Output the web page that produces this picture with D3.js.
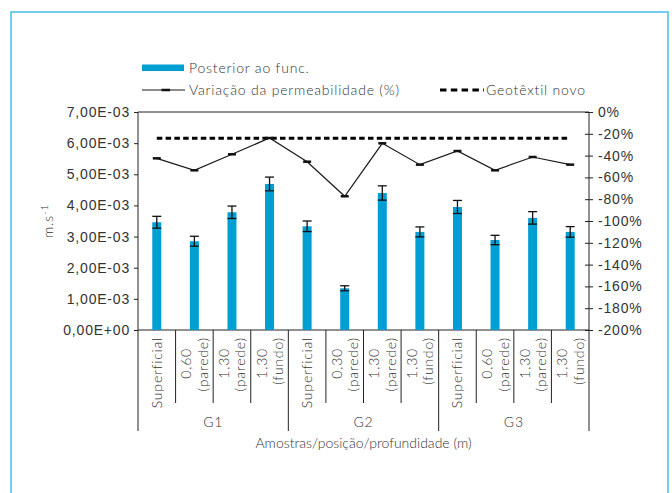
<!DOCTYPE html>
<html>
<head>
<meta charset="utf-8">
<script src="https://cdn.jsdelivr.net/npm/d3@7"></script>
<style>
  html, body { margin: 0; padding: 0; background: #fff; }
  svg { display: block; font-family: Lato, "Open Sans", sans-serif; font-weight: 300; letter-spacing: 0.8px; }
  text { fill: #333; }
</style>
</head>
<body>
<svg id="chart" width="672" height="493"></svg>
<script>
// Samples: [first line, second line] of each rotated category label
const categories = [
  ["Superficial"], ["0,60", "(parede)"], ["1,30", "(parede)"], ["1,30", "(fundo)"],
  ["Superficial"], ["0,30", "(parede)"], ["1,30", "(parede)"], ["1,30", "(fundo)"],
  ["Superficial"], ["0,60", "(parede)"], ["1,30", "(parede)"], ["1,30", "(fundo)"]
];
const groups = ["G1", "G2", "G3"];

// Permeability after operation (m.s-1) with its error
const posterior = [3.46e-3, 2.85e-3, 3.78e-3, 4.69e-3, 3.33e-3, 1.34e-3, 4.40e-3, 3.15e-3, 3.95e-3, 2.89e-3, 3.60e-3, 3.15e-3];
const posteriorErr = [0.19e-3, 0.16e-3, 0.20e-3, 0.22e-3, 0.17e-3, 0.08e-3, 0.23e-3, 0.16e-3, 0.21e-3, 0.15e-3, 0.20e-3, 0.17e-3];

// Permeability change (%)
const variacao = [-42.5, -53.5, -38.8, -23.9, -45.6, -77.3, -28.7, -48.3, -35.8, -53.5, -41.3, -48.3];
// New geotextile reference (%)
const geotextilNovo = -24;

const leftTicks = d3.range(0, 0.00701, 0.001);
const rightTicks = d3.range(-200, 1, 20);

const svg = d3.select("#chart");
const blue = "#009fd3";
const fs = 14;

// Outer frame
svg.append("rect").attr("x", 11).attr("y", 12).attr("width", 657).attr("height", 520)
  .attr("fill", "none").attr("stroke", "#4dbbe6").attr("stroke-width", 1.5);

const plot = { left: 138, right: 589, top: 112, bottom: 330 };

const x = d3.scaleBand().domain(d3.range(categories.length)).range([plot.left, plot.right]).padding(0);
const y = d3.scaleLinear().domain([0, 0.007]).range([plot.bottom, plot.top]);
const y2 = d3.scaleLinear().domain([-200, 0]).range([plot.bottom, plot.top]);

const fmtSci = v => {
  if (v === 0) return "0,00E+00";
  const e = Math.floor(Math.log10(v) + 1e-9);
  const m = v / Math.pow(10, e);
  const sign = e < 0 ? "-" : "+";
  return m.toFixed(2).replace(".", ",") + "E" + sign + String(Math.abs(e)).padStart(2, "0");
};

// Left axis
const yAxis = d3.axisLeft(y).tickValues(leftTicks).tickFormat(fmtSci).tickSize(4).tickPadding(4);
const gl = svg.append("g").attr("transform", `translate(${plot.left},0)`).call(yAxis);
gl.select(".domain").remove();
gl.selectAll(".tick line").attr("stroke", "#222");
gl.selectAll(".tick text").attr("font-size", fs).attr("fill", "#333").attr("font-family", null);

// Right axis
const yAxis2 = d3.axisRight(y2).tickValues(rightTicks).tickFormat(d => d + "%").tickSize(4).tickPadding(5);
const gr = svg.append("g").attr("transform", `translate(${plot.right},0)`).call(yAxis2);
gr.select(".domain").remove();
gr.selectAll(".tick line").attr("stroke", "#222").attr("x1", -4);
gr.selectAll(".tick text").attr("font-size", fs).attr("fill", "#333").attr("font-family", null);

// Plot frame lines
const axisColor = "#222";
svg.append("line").attr("x1", plot.left).attr("x2", plot.right).attr("y1", plot.top).attr("y2", plot.top)
  .attr("stroke", axisColor).attr("stroke-width", 1);
svg.append("line").attr("x1", plot.right).attr("x2", plot.right).attr("y1", plot.top).attr("y2", plot.bottom)
  .attr("stroke", axisColor).attr("stroke-width", 1);
svg.append("line").attr("x1", plot.left).attr("x2", plot.left).attr("y1", plot.top).attr("y2", 431)
  .attr("stroke", axisColor).attr("stroke-width", 1);
svg.append("line").attr("x1", plot.left).attr("x2", plot.right).attr("y1", plot.bottom).attr("y2", plot.bottom)
  .attr("stroke", axisColor).attr("stroke-width", 1);

// Category separators and group separators
categories.forEach((c, i) => {
  if (i === 0) return;
  const xx = x(i);
  const isGroup = i % 4 === 0;
  svg.append("line").attr("x1", xx).attr("x2", xx).attr("y1", plot.bottom).attr("y2", isGroup ? 431 : 403)
    .attr("stroke", axisColor).attr("stroke-width", 1);
});
svg.append("line").attr("x1", plot.right).attr("x2", plot.right).attr("y1", plot.bottom).attr("y2", 431)
  .attr("stroke", axisColor).attr("stroke-width", 1);

// Category labels (rotated)
categories.forEach((lines, i) => {
  const cx = x(i) + x.bandwidth() / 2;
  if (lines.length === 1) {
    svg.append("text").attr("transform", `translate(${cx + 5},337) rotate(-90)`)
      .attr("text-anchor", "end").attr("font-size", fs).text(lines[0]);
  } else {
    svg.append("text").attr("transform", `translate(${cx - 3},348) rotate(-90)`)
      .attr("text-anchor", "end").attr("font-size", fs).text(lines[0]);
    svg.append("text").attr("transform", `translate(${cx + 13.5},337) rotate(-90)`)
      .attr("text-anchor", "end").attr("font-size", fs).text(lines[1]);
  }
});

// Group labels
groups.forEach((g, gi) => {
  const x0 = x(gi * 4), x1 = x(gi * 4 + 3) + x.bandwidth();
  svg.append("text").attr("x", (x0 + x1) / 2).attr("y", 427).attr("text-anchor", "middle")
    .attr("font-size", fs).text(g);
});

// Axis titles
svg.append("text").attr("x", (plot.left + plot.right) / 2).attr("y", 448).attr("text-anchor", "middle")
  .attr("font-size", fs).attr("letter-spacing", "0px").text("Amostras/posição/profundidade (m)");
const yt = svg.append("text").attr("transform", `translate(53,${(plot.top + plot.bottom) / 2}) rotate(-90)`)
  .attr("text-anchor", "middle").attr("font-size", fs);
yt.append("tspan").text("m.s");
yt.append("tspan").attr("dy", -5).attr("font-size", 10).text("-1");

// Bars
const bw = 9;
svg.append("g").selectAll("rect").data(posterior).join("rect")
  .attr("x", (d, i) => x(i) + x.bandwidth() / 2 - bw / 2)
  .attr("y", d => y(d))
  .attr("width", bw)
  .attr("height", d => plot.bottom - y(d))
  .attr("fill", blue);

// Error bars
const eg = svg.append("g").attr("stroke", "#111").attr("stroke-width", 1.3);
posterior.forEach((d, i) => {
  const cx = x(i) + x.bandwidth() / 2;
  const hi = y(d + posteriorErr[i]), lo = y(d - posteriorErr[i]);
  eg.append("line").attr("x1", cx).attr("x2", cx).attr("y1", hi).attr("y2", lo);
  eg.append("line").attr("x1", cx - 4.5).attr("x2", cx + 4.5).attr("y1", hi).attr("y2", hi);
  eg.append("line").attr("x1", cx - 4.5).attr("x2", cx + 4.5).attr("y1", lo).attr("y2", lo);
});

// New geotextile dashed reference
svg.append("line")
  .attr("x1", x(0) + x.bandwidth() / 2).attr("x2", x(categories.length - 1) + x.bandwidth() / 2)
  .attr("y1", y2(geotextilNovo)).attr("y2", y2(geotextilNovo))
  .attr("stroke", "#000").attr("stroke-width", 3).attr("stroke-dasharray", "5.5,3.3");

// Permeability change line
const line = d3.line().x((d, i) => x(i) + x.bandwidth() / 2).y(d => y2(d));
svg.append("path").datum(variacao).attr("d", line).attr("fill", "none")
  .attr("stroke", "#1a1a1a").attr("stroke-width", 1.2);
svg.append("g").selectAll("line").data(variacao).join("line")
  .attr("x1", (d, i) => x(i) + x.bandwidth() / 2 - 4)
  .attr("x2", (d, i) => x(i) + x.bandwidth() / 2 + 4)
  .attr("y1", d => y2(d)).attr("y2", d => y2(d))
  .attr("stroke", "#111").attr("stroke-width", 2.5);

// Legend
const lg = svg.append("g");
lg.append("rect").attr("x", 142).attr("y", 64.5).attr("width", 42).attr("height", 6.5).attr("fill", blue);
lg.append("text").attr("x", 189).attr("y", 73).attr("font-size", fs).text("Posterior ao func.");
lg.append("line").attr("x1", 142).attr("x2", 185).attr("y1", 90).attr("y2", 90)
  .attr("stroke", "#1a1a1a").attr("stroke-width", 1.2);
lg.append("line").attr("x1", 161.5).attr("x2", 170).attr("y1", 90).attr("y2", 90)
  .attr("stroke", "#111").attr("stroke-width", 2.5);
lg.append("text").attr("x", 189).attr("y", 95).attr("font-size", fs).text("Variação da permeabilidade (%)");
lg.append("line").attr("x1", 440).attr("x2", 484).attr("y1", 90).attr("y2", 90)
  .attr("stroke", "#000").attr("stroke-width", 3).attr("stroke-dasharray", "6.5,4.3");
lg.append("text").attr("x", 486).attr("y", 95).attr("font-size", fs).text("Geotêxtil novo");
</script>
</body>
</html>
